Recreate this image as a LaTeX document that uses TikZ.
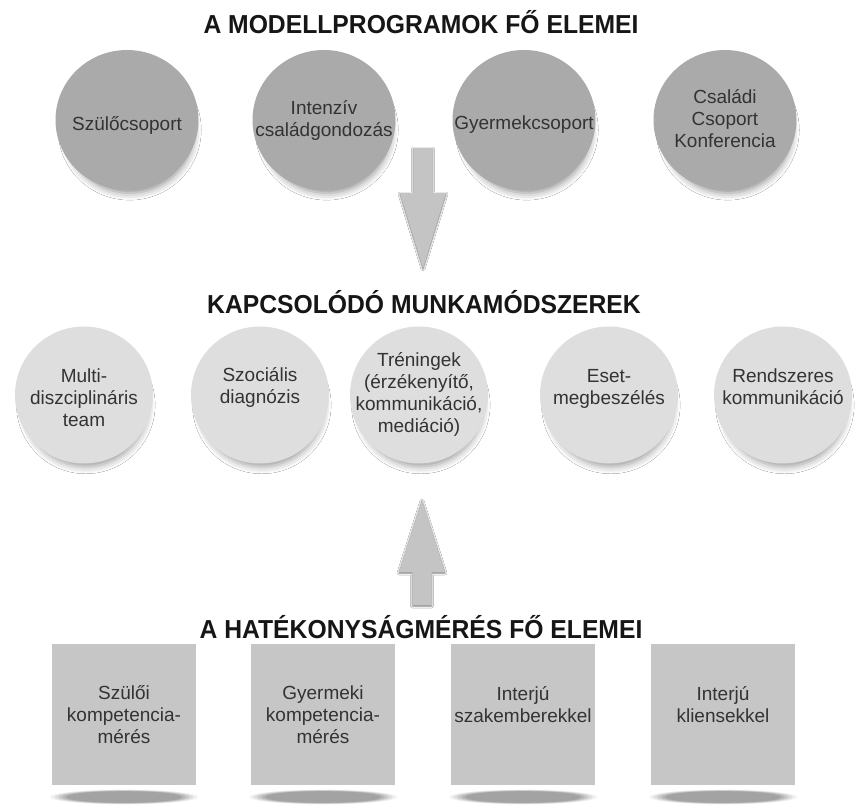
\documentclass[tikz,border=0pt]{standalone}
\usepackage{fontspec}
\setmainfont{Liberation Sans}
\newfontfamily\titlefont{Liberation Sans}[FakeStretch=0.95]
\usetikzlibrary{shapes.geometric,shadows.blur}
\definecolor{topgray}{HTML}{AAAAAA}
\definecolor{midgray}{HTML}{DEDEDE}
\definecolor{boxgray}{HTML}{C6C6C6}
\definecolor{arrgray}{HTML}{C4C4C4}
\definecolor{txt}{HTML}{333333}
\definecolor{ttl}{HTML}{161616}
\tikzset{
  title/.style={font=\titlefont\fontsize{26}{28}\selectfont\bfseries, text=ttl, inner sep=0pt},
  lbl/.style={font=\fontsize{19}{22}\selectfont, text=txt, align=center, inner sep=0pt},
  bigell/.style={ellipse, fill=topgray, minimum width=143pt, minimum height=140pt, inner sep=0pt,
     blur shadow={shadow xshift=3pt, shadow yshift=-11pt, shadow scale=0.9, shadow blur radius=8pt, shadow opacity=45}},
  midell/.style={ellipse, fill=midgray, minimum width=138pt, minimum height=137pt, inner sep=0pt,
     blur shadow={shadow xshift=2pt, shadow yshift=-11pt, shadow scale=0.9, shadow blur radius=8pt, shadow opacity=40}},
  sqbox/.style={rectangle, fill=boxgray, minimum width=144pt, minimum height=141pt, inner sep=0pt, lbl},
  arrowbody/.style={fill=arrgray, blur shadow={shadow xshift=0pt, shadow yshift=-1pt, shadow blur radius=2pt, shadow opacity=60}}
}
\begin{document}
\begin{tikzpicture}[x=1pt,y=-1pt]
\fill[white] (0,0) rectangle (860,810);
\useasboundingbox (0,0) rectangle (860,810);

% titles
\node[title] (t1) at (421,22) {A MODELLPROGRAMOK FŐ ELEMEI};
\node[title] (t2) at (424,302) {KAPCSOLÓDÓ MUNKAMÓDSZEREK};
\node[title] (t3) at (421,627) {A HATÉKONYSÁGMÉRÉS FŐ ELEMEI};

% top row
\node[bigell, label={[lbl,yshift=-5pt]center:Szülőcsoport}] (a1) at (127,120) {};
\node[bigell, label={[lbl]center:{Intenzív\\családgondozás}}] (a2) at (324,120) {};
\node[bigell, label={[lbl,yshift=-5pt]center:Gyermekcsoport}] (a3) at (524,120) {};
\node[bigell, label={[lbl,yshift=1pt]center:{Családi\\Csoport\\Konferencia}}] (a4) at (725,120) {};

% middle row
\node[midell, label={[lbl,yshift=-3pt]center:{Multi-\\diszciplináris\\team}}] (b1) at (84,395) {};
\node[midell, label={[lbl,yshift=8pt]center:{Szociális\\diagnózis}}] (b2) at (260,395) {};
\node[midell, label={[lbl,yshift=1pt]center:{Tréningek\\(érzékenyítő,\\kommunikáció,\\mediáció)}}] (b3) at (419,395) {};
\node[midell, label={[lbl,yshift=6pt]center:{Eset-\\megbeszélés}}] (b4) at (609,395) {};
\node[midell, label={[lbl,yshift=8pt]center:{Rendszeres\\kommunikáció}}] (b5) at (783,395) {};

% box shadows
\foreach \cx in {124,323,523,723}{
  \foreach \r/\o in {74/0.05,70/0.07,66/0.09,62/0.1,58/0.1}{
    \fill[black, opacity=\o] (\cx,797) ellipse ({\r pt} and {\r/10 pt});
  }
}
% bottom row
\node[sqbox] (c1) at (124,714.5) {Szülői\\kompetencia-\\mérés};
\node[sqbox] (c2) at (323,714.5) {Gyermeki\\kompetencia-\\mérés};
\node[sqbox, label={[lbl,yshift=10pt]center:{Interjú\\szakemberekkel}}] (c3) at (523,714.5) {};
\node[sqbox, label={[lbl,yshift=10pt]center:{Interjú\\kliensekkel}}] (c4) at (723,714.5) {};

% down arrow
\coordinate (dtip) at (423,268);
\fill[arrowbody] (413.5,148) -- (432.5,148) -- (432.5,193) -- (446,193) -- (dtip) -- (400,193) -- (413.5,193) -- cycle;

% up arrow
\coordinate (utip) at (422,500);
\fill[arrowbody] (412.5,605) -- (431.5,605) -- (431.5,572) -- (445,572) -- (utip) -- (399,572) -- (412.5,572) -- cycle;
\end{tikzpicture}
\end{document}
